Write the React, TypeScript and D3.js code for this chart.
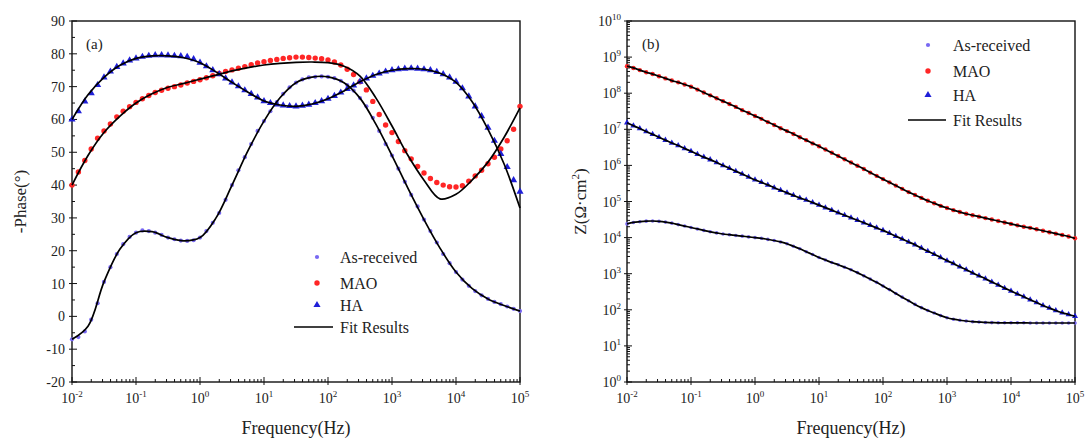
import { useEffect, useRef } from 'react'
import * as d3 from 'd3'

// measured frequencies, log10(Hz)
const logFreq = [
  -2, -1.9, -1.8, -1.7, -1.6, -1.5, -1.4, -1.3, -1.2, -1.1, -1,
  -0.9, -0.8, -0.7, -0.6, -0.5, -0.4, -0.3, -0.2, -0.1, 0,
  0.1, 0.2, 0.3, 0.4, 0.5, 0.6, 0.7, 0.8, 0.9, 1,
  1.1, 1.2, 1.3, 1.4, 1.5, 1.6, 1.7, 1.8, 1.9, 2,
  2.1, 2.2, 2.3, 2.4, 2.5, 2.6, 2.7, 2.8, 2.9, 3,
  3.1, 3.2, 3.3, 3.4, 3.5, 3.6, 3.7, 3.8, 3.9, 4,
  4.1, 4.2, 4.3, 4.4, 4.5, 4.6, 4.7, 4.8, 4.9, 5,
]
// fitted curve frequencies, log10(Hz)
const fitLogFreq = [
  -2, -1.75, -1.5, -1.25, -1, -0.75, -0.5, -0.25, 0, 0.25, 0.5, 0.75, 1, 1.25, 1.5,
  1.75, 2, 2.25, 2.5, 2.75, 3, 3.25, 3.5, 3.75, 4, 4.25, 4.5, 4.75, 5,
]

// -phase (deg)
const asReceivedPhase = [
  -7, -6.3, -4.6, -1, 4, 10.5, 15, 19, 22, 24.2, 25.5,
  26.2, 26, 25.5, 24.8, 24, 23.5, 23.1, 23, 23.2, 24,
  26, 28.5, 31.5, 35.5, 40, 44.5, 48.5, 52.5, 56.5, 59.5,
  62.5, 65.3, 67.8, 69.8, 71.2, 72.2, 72.8, 73, 73.1, 73,
  72.6, 71.8, 70.5, 68.8, 66.5, 64, 60.5, 56.5, 52.5, 49,
  45, 41, 37, 33.5, 29.5, 26, 22.5, 19, 16.2, 13.5,
  11.2, 9.3, 7.7, 6.4, 5.3, 4.4, 3.7, 3, 2.3, 1.6,
]
const maoPhase = [
  40, 44, 47.5, 51, 54.3, 56.5, 58.6, 60.8, 62.5, 63.9, 65.2,
  66.3, 67.3, 68.2, 68.9, 69.5, 70, 70.5, 71.1, 71.6, 72.1,
  72.7, 73.3, 74, 74.6, 75.1, 75.6, 76.1, 76.7, 77.2, 77.6,
  78, 78.3, 78.6, 78.8, 79, 79, 78.9, 78.7, 78.5, 78.1,
  77.5, 76.6, 75.3, 73.7, 71.5, 69, 65.5, 61.5, 58.3, 56,
  53.3, 50.5, 48, 45.7, 43.7, 42, 40.8, 40, 39.5, 39.4,
  39.8, 41.2, 42.8, 44.5, 46.5, 48.5, 51, 53.5, 57, 64,
]
const haPhase = [
  60, 62.5, 65.5, 68, 70.5, 72.8, 74.6, 76, 77.1, 78, 78.6,
  79.1, 79.4, 79.6, 79.6, 79.5, 79.4, 79.3, 79.1, 78.4, 77.3,
  76.2, 75, 73.8, 72.5, 71.3, 70.1, 68.9, 67.8, 66.7, 65.6,
  65, 64.6, 64.3, 64.1, 64, 64.2, 64.5, 65, 65.6, 66.3,
  67.2, 68.2, 69.3, 70.4, 71.5, 72.5, 73.3, 74, 74.6, 75,
  75.3, 75.5, 75.6, 75.5, 75.3, 75, 74.5, 73.8, 72.8, 71.5,
  69.5, 67, 64, 61, 57.5, 53.5, 49.5, 45.5, 41.5, 38,
]
const asReceivedPhaseFit = [
  -7, -3, 10.5, 20.5, 25.5, 25.8, 24, 23, 24, 30, 40, 50.5, 59.5, 66.6, 71.2,
  72.9, 73, 71.2, 66.5, 58.5, 49, 39, 29.5, 20.8, 13.5, 8.5, 5.3, 3.3, 1.6,
]
const maoPhaseFit = [
  40, 49, 56, 61, 65, 67.8, 69.8, 71, 72.3, 73.5, 74.8, 75.8, 76.6, 77.1, 77.4,
  77.5, 77.3, 76.2, 73.2, 66.5, 58, 49, 41.5, 35.8, 37.2, 41.5, 47, 54.5, 63.5,
]
const haPhaseFit = [
  60, 67.5, 72.8, 76.5, 78.6, 79.4, 79.4, 78.8, 77.3, 74.5, 71.3, 68.3, 65.6, 64.4, 64,
  64.7, 66.3, 68.7, 71.5, 73.7, 75, 75.5, 75.3, 74.1, 71.3, 65.5, 57, 46.5, 33,
]

// log10 |Z| (ohm cm2)
const asReceivedLogZ = [
  4.38, 4.42, 4.44, 4.455, 4.46, 4.45, 4.43, 4.4, 4.36, 4.32, 4.28,
  4.24, 4.2, 4.16, 4.13, 4.1, 4.08, 4.06, 4.04, 4.02, 4,
  3.98, 3.95, 3.92, 3.88, 3.83, 3.76, 3.69, 3.61, 3.53, 3.45,
  3.38, 3.31, 3.25, 3.18, 3.11, 3.03, 2.94, 2.85, 2.76, 2.66,
  2.56, 2.45, 2.35, 2.25, 2.15, 2.06, 1.98, 1.91, 1.84, 1.78,
  1.74, 1.71, 1.69, 1.67, 1.66, 1.65, 1.645, 1.64, 1.64, 1.64,
  1.64, 1.64, 1.635, 1.635, 1.635, 1.635, 1.635, 1.635, 1.635, 1.635,
]
const maoLogZ = [
  8.75, 8.7, 8.64, 8.58, 8.53, 8.47, 8.41, 8.35, 8.3, 8.24, 8.18,
  8.1, 8.02, 7.94, 7.86, 7.78, 7.7, 7.62, 7.53, 7.45, 7.37,
  7.29, 7.2, 7.12, 7.03, 6.95, 6.87, 6.78, 6.7, 6.61, 6.53,
  6.44, 6.35, 6.26, 6.17, 6.08, 5.99, 5.9, 5.8, 5.71, 5.62,
  5.53, 5.44, 5.35, 5.26, 5.18, 5.1, 5.02, 4.95, 4.88, 4.82,
  4.76, 4.71, 4.66, 4.62, 4.58, 4.54, 4.5, 4.46, 4.42, 4.38,
  4.34, 4.3, 4.27, 4.23, 4.19, 4.15, 4.11, 4.07, 4.03, 3.98,
]
const haLogZ = [
  7.18, 7.1, 7.02, 6.94, 6.86, 6.78, 6.7, 6.62, 6.55, 6.47, 6.39,
  6.31, 6.23, 6.16, 6.08, 6, 5.92, 5.84, 5.76, 5.68, 5.6,
  5.53, 5.46, 5.38, 5.31, 5.24, 5.17, 5.1, 5.04, 4.97, 4.9,
  4.83, 4.76, 4.69, 4.62, 4.55, 4.48, 4.41, 4.34, 4.27, 4.2,
  4.12, 4.04, 3.96, 3.88, 3.8, 3.71, 3.62, 3.54, 3.45, 3.36,
  3.28, 3.19, 3.11, 3.02, 2.94, 2.86, 2.77, 2.69, 2.6, 2.52,
  2.44, 2.36, 2.28, 2.2, 2.12, 2.05, 1.98, 1.92, 1.87, 1.82,
]

const freqDecades = [-2, -1, 0, 1, 2, 3, 4, 5]
const phaseTicks = [-20, -10, 0, 10, 20, 30, 40, 50, 60, 70, 80, 90]
const zDecades = [0, 1, 2, 3, 4, 5, 6, 7, 8, 9, 10]
const seriesNames = ['As-received', 'MAO', 'HA', 'Fit Results']

const FONT = '"Liberation Serif", "Times New Roman", serif'
const COL = { asr: '#7868f2', mao: '#ff2626', ha: '#1f1fd8' }

type Box = { left: number; right: number; top: number; bottom: number }

export default function App() {
  const ref = useRef<SVGSVGElement>(null)

  useEffect(() => {
    const el = ref.current
    if (!el) return
    const svg = d3.select(el)
    svg.selectAll('*').remove()
    svg.append('rect').attr('width', 1085).attr('height', 441).attr('fill', '#fff')

    const boxA: Box = { left: 72, right: 520, top: 21, bottom: 382 }
    const boxB: Box = { left: 627, right: 1075, top: 21, bottom: 382 }

    const xA = d3.scaleLog().domain([1e-2, 1e5]).range([boxA.left, boxA.right])
    const xB = d3.scaleLog().domain([1e-2, 1e5]).range([boxB.left, boxB.right])
    const yA = d3.scaleLinear().domain([-20, 90]).range([boxA.bottom, boxA.top])
    const yB = d3.scaleLog().domain([1, 1e10]).range([boxB.bottom, boxB.top])

    const minorDecade = (decs: number[]) => {
      const out: number[] = []
      decs.slice(0, -1).forEach((d) => {
        for (let k = 2; k < 10; k++) out.push(k * 10 ** d)
      })
      return out
    }

    const supLabel = (g: any, x: number, y: number, exp: number, anchor: string) => {
      const t = g
        .append('text')
        .attr('x', x)
        .attr('y', y)
        .attr('text-anchor', anchor)
        .attr('font-family', FONT)
        .attr('font-size', 14)
        .attr('fill', '#222')
      t.append('tspan').text('10')
      t.append('tspan').attr('dy', -6).attr('font-size', 9).text(String(exp))
    }

    const frame = (b: Box, x: any) => {
      const g = svg.append('g').attr('stroke', '#111').attr('stroke-width', 1)
      freqDecades.forEach((d) => {
        const px = x(10 ** d)
        g.append('line').attr('x1', px).attr('x2', px).attr('y1', b.bottom - 5).attr('y2', b.bottom + 3)
      })
      minorDecade(freqDecades).forEach((v) => {
        const px = x(v)
        g.append('line').attr('x1', px).attr('x2', px).attr('y1', b.bottom - 3).attr('y2', b.bottom)
      })
      svg
        .append('rect')
        .attr('x', b.left)
        .attr('y', b.top)
        .attr('width', b.right - b.left)
        .attr('height', b.bottom - b.top)
        .attr('fill', 'none')
        .attr('stroke', '#111')
        .attr('stroke-width', 1.4)
      freqDecades.forEach((d) => supLabel(svg, x(10 ** d), b.bottom + 21, d, 'middle'))
      svg
        .append('text')
        .attr('x', (b.left + b.right) / 2)
        .attr('y', 434)
        .attr('text-anchor', 'middle')
        .attr('font-family', FONT)
        .attr('font-size', 18)
        .attr('fill', '#222')
        .text('Frequency(Hz)')
      return g
    }

    // ---- panel (a): phase ----
    const gA = frame(boxA, xA)
    phaseTicks.forEach((v) => {
      gA.append('line').attr('x1', boxA.left - 3).attr('x2', boxA.left + 5).attr('y1', yA(v)).attr('y2', yA(v))
      svg
        .append('text')
        .attr('x', boxA.left - 7)
        .attr('y', yA(v) + 5)
        .attr('text-anchor', 'end')
        .attr('font-family', FONT)
        .attr('font-size', 14)
        .attr('fill', '#222')
        .text(v)
      if (v < 90)
        gA.append('line').attr('x1', boxA.left).attr('x2', boxA.left + 3).attr('y1', yA(v + 5)).attr('y2', yA(v + 5))
    })
    svg
      .append('text')
      .attr('transform', `translate(26,${(boxA.top + boxA.bottom) / 2}) rotate(-90)`)
      .attr('text-anchor', 'middle')
      .attr('font-family', FONT)
      .attr('font-size', 17)
      .attr('fill', '#222')
      .text('-Phase(°)')
    svg.append('text').attr('x', 86).attr('y', 49).attr('font-family', FONT).attr('font-size', 15).attr('fill', '#222').text('(a)')

    // ---- panel (b): |Z| ----
    const gB = frame(boxB, xB)
    zDecades.forEach((d) => {
      gB.append('line').attr('x1', boxB.left - 3).attr('x2', boxB.left + 5).attr('y1', yB(10 ** d)).attr('y2', yB(10 ** d))
      supLabel(svg, boxB.left - 6, yB(10 ** d) + 5, d, 'end')
    })
    minorDecade(zDecades).forEach((v) => {
      gB.append('line').attr('x1', boxB.left).attr('x2', boxB.left + 3).attr('y1', yB(v)).attr('y2', yB(v))
    })
    const zt = svg
      .append('text')
      .attr('transform', `translate(586,${(boxB.top + boxB.bottom) / 2}) rotate(-90)`)
      .attr('text-anchor', 'middle')
      .attr('font-family', FONT)
      .attr('font-size', 17)
      .attr('fill', '#222')
    zt.append('tspan').text('Z(Ω·cm')
    zt.append('tspan').attr('dy', -7).attr('font-size', 11).text('2')
    zt.append('tspan').attr('dy', 7).text(')')
    svg.append('text').attr('x', 642).attr('y', 49).attr('font-family', FONT).attr('font-size', 15).attr('fill', '#222').text('(b)')

    // ---- markers and fits ----
    const tri = d3.symbol().type(d3.symbolTriangle)
    const drawMarkers = (x: any, y: any, vals: number[], kind: 'asr' | 'mao' | 'ha', logY: boolean, small: boolean) => {
      const pts = logFreq.map((f, i) => [x(10 ** f), y(logY ? 10 ** vals[i] : vals[i])])
      const g = svg.append('g').attr('fill', COL[kind])
      if (kind === 'ha') {
        g.selectAll('path')
          .data(pts)
          .join('path')
          .attr('d', tri.size(small ? 16 : 22)())
          .attr('transform', (d) => `translate(${d[0]},${d[1]})`)
      } else {
        g.selectAll('circle')
          .data(pts)
          .join('circle')
          .attr('cx', (d) => d[0])
          .attr('cy', (d) => d[1])
          .attr('r', kind === 'mao' ? (small ? 2.2 : 2.7) : small ? 1.8 : 2.1)
      }
    }
    const drawFit = (pts: [number, number][]) => {
      svg
        .append('path')
        .attr('d', d3.line().curve(d3.curveCatmullRom)(pts))
        .attr('fill', 'none')
        .attr('stroke', '#000')
        .attr('stroke-width', 1.7)
    }

    drawMarkers(xA, yA, asReceivedPhase, 'asr', false, false)
    drawMarkers(xA, yA, maoPhase, 'mao', false, false)
    drawMarkers(xA, yA, haPhase, 'ha', false, false)
    ;[asReceivedPhaseFit, maoPhaseFit, haPhaseFit].forEach((fit) =>
      drawFit(fitLogFreq.map((f, i) => [xA(10 ** f), yA(fit[i])]))
    )

    drawMarkers(xB, yB, asReceivedLogZ, 'asr', true, true)
    drawMarkers(xB, yB, maoLogZ, 'mao', true, true)
    drawMarkers(xB, yB, haLogZ, 'ha', true, true)
    ;[asReceivedLogZ, maoLogZ, haLogZ].forEach((vals) =>
      drawFit(logFreq.map((f, i) => [xB(10 ** f), yB(10 ** vals[i])]))
    )

    // ---- legends ----
    const legend = (mx: number, tx: number, rows: number[], lx0: number, lx1: number) => {
      const kinds: ('asr' | 'mao' | 'ha')[] = ['asr', 'mao', 'ha']
      kinds.forEach((k, i) => {
        if (k === 'ha')
          svg.append('path').attr('d', tri.size(22)()).attr('transform', `translate(${mx},${rows[i]})`).attr('fill', COL[k])
        else svg.append('circle').attr('cx', mx).attr('cy', rows[i]).attr('r', k === 'mao' ? 2.7 : 2.1).attr('fill', COL[k])
      })
      svg.append('line').attr('x1', lx0).attr('x2', lx1).attr('y1', rows[3]).attr('y2', rows[3]).attr('stroke', '#000').attr('stroke-width', 1.7)
      seriesNames.forEach((name, i) => {
        svg
          .append('text')
          .attr('x', tx)
          .attr('y', rows[i] + 6)
          .attr('font-family', FONT)
          .attr('font-size', 16)
          .attr('fill', '#222')
          .text(name)
      })
    }
    legend(317, 340, [257, 283, 305, 327], 294, 333)
    legend(928, 953, [45, 71, 95, 120], 908, 946)
  }, [])

  return <svg ref={ref} width={1085} height={441} style={{ position: 'absolute', left: 0, top: 0 }} />
}
